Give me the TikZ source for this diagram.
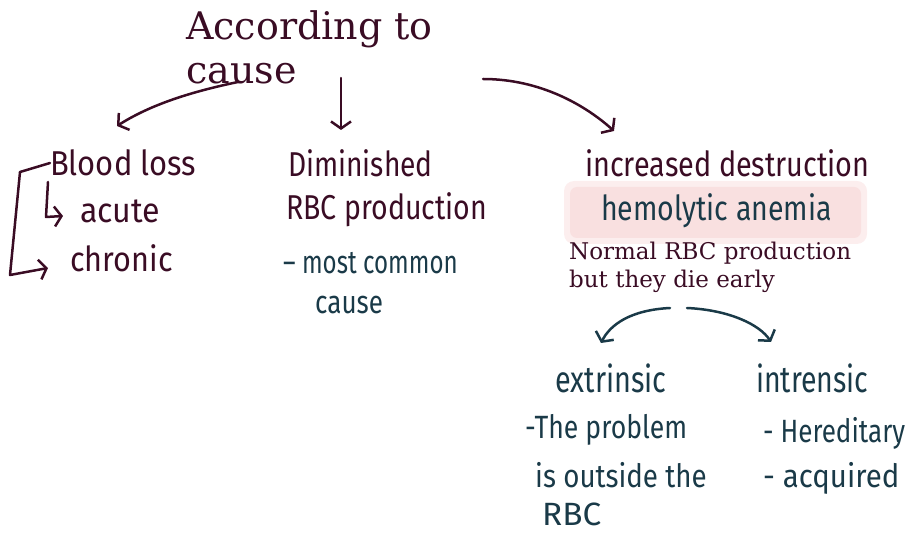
\documentclass[tikz,border=0pt]{standalone}
\usepackage{fontspec}
\usetikzlibrary{arrows.meta}
\newfontfamily\tyfont{DejaVu Serif}
\newfontfamily\hwfont{Fira Sans}
\definecolor{maroon}{RGB}{58,12,36}
\definecolor{teal2}{RGB}{26,58,72}
\definecolor{hilite}{RGB}{249,224,224}
\definecolor{hilite2}{RGB}{252,238,238}
\newcommand{\hw}[3]{\scalebox{#2}[1.15]{\fontsize{#1}{#1}\hwfont #3}}
\tikzset{
  ty/.style={anchor=base west, inner sep=0pt, text=maroon, font=\tyfont\fontsize{23}{29}\selectfont},
  hwm/.style={anchor=west, inner sep=0pt, text=maroon},
  hwt/.style={anchor=west, inner sep=0pt, text=teal2},
  pen/.style={line width=2.5pt, line cap=round, line join=round, maroon},
  pent/.style={line width=2.5pt, line cap=round, line join=round, teal2},
  barb/.style={-{Straight Barb[length=7pt,width=20pt,line width=2.5pt]}},
}
\begin{document}
\begin{tikzpicture}[x=1pt,y=-1pt]
\useasboundingbox (0,0) rectangle (908,534);
% highlight
\fill[hilite2, rounded corners=10pt] (564,181) rectangle (867,244);
\fill[hilite, rounded corners=7pt] (570,187) rectangle (861,238);
% texts
\node[ty, font=\tyfont\fontsize{38}{44}\selectfont] (title) at (186,40) {According to};
\node[ty, font=\tyfont\fontsize{38}{44}\selectfont] (title2) at (186,84) {cause};
\node[hwm] (blood) at (50,163) {\hw{30}{1.03}{Blood loss}};
\node[hwm] (acute) at (80,211) {\hw{30}{1.07}{acute}};
\node[hwm] (chronic) at (70,258) {\hw{30}{1.02}{chronic}};
\node[hwm] (dimin) at (288,163) {\hw{30}{0.94}{Diminished}};
\node[hwm] (rbcp) at (286,210) {\hw{30}{0.95}{RBC production}};
\node[hwt] (most) at (283,263) {\hw{28}{0.86}{\textendash\ most common}};
\node[hwt] (cause2) at (315,305) {\hw{28}{0.93}{cause}};
\node[hwm] (incr) at (585,163) {\hw{30}{0.96}{increased destruction}};
\node[hwt] (hemo) at (601,211) {\hw{30}{0.95}{hemolytic anemia}};
\node[ty] (normal) at (569,260) {Normal RBC production};
\node[ty] (normal2) at (569,288) {but they die early};
\node[hwt] (extr) at (555,378) {\hw{32}{0.90}{extrinsic}};
\node[hwt] (intr) at (756,378) {\hw{32}{0.89}{intrensic}};
\node[hwt] (prob1) at (525,430) {\hw{28}{0.95}{-The problem}};
\node[hwt] (prob2) at (535,475) {\hw{28}{0.99}{is outside the}};
\node[hwt] (prob3) at (542,514) {\hw{28}{1.19}{RBC}};
\node[hwt] (hered) at (763,433) {\hw{28}{0.93}{- Hereditary}};
\node[hwt] (acq) at (763,478) {\hw{28}{1.05}{- acquired}};
% connector coordinates
\coordinate (a1s) at (238,82);
\coordinate (a1e) at (117,126);
\coordinate (a2s) at (341,78);
\coordinate (a2e) at (341,130);
\coordinate (a3s) at (483,79);
\coordinate (a3e) at (614,131);
\coordinate (b0) at (20,172);
\coordinate (b1) at (10,275);
\coordinate (b2) at (48,268);
\coordinate (c0) at (48,182);
\coordinate (c1) at (46,217);
\coordinate (c2) at (63,216);
\coordinate (l1s) at (670,308);
\coordinate (l1e) at (601,343);
\coordinate (l2s) at (687,308);
\coordinate (l2e) at (771,342);
% arrows
\draw[pen,barb] (a1s) .. controls (190,92) and (150,105) .. (a1e);
\draw[pen,barb] (a2s) -- (a2e);
\draw[pen,barb] (a3s) .. controls (540,79) and (585,105) .. (a3e);
\draw[pen] (blood.west) -- (b0);
\draw[pen,barb] (b0) -- (b1) -- (b2);
\draw[pen,barb] (c0) -- (c1) -- (c2);
\draw[pent,barb] (l1s) .. controls (630,310) and (610,325) .. (l1e);
\draw[pent,barb] (l2s) .. controls (730,310) and (760,325) .. (l2e);
\end{tikzpicture}
\end{document}
